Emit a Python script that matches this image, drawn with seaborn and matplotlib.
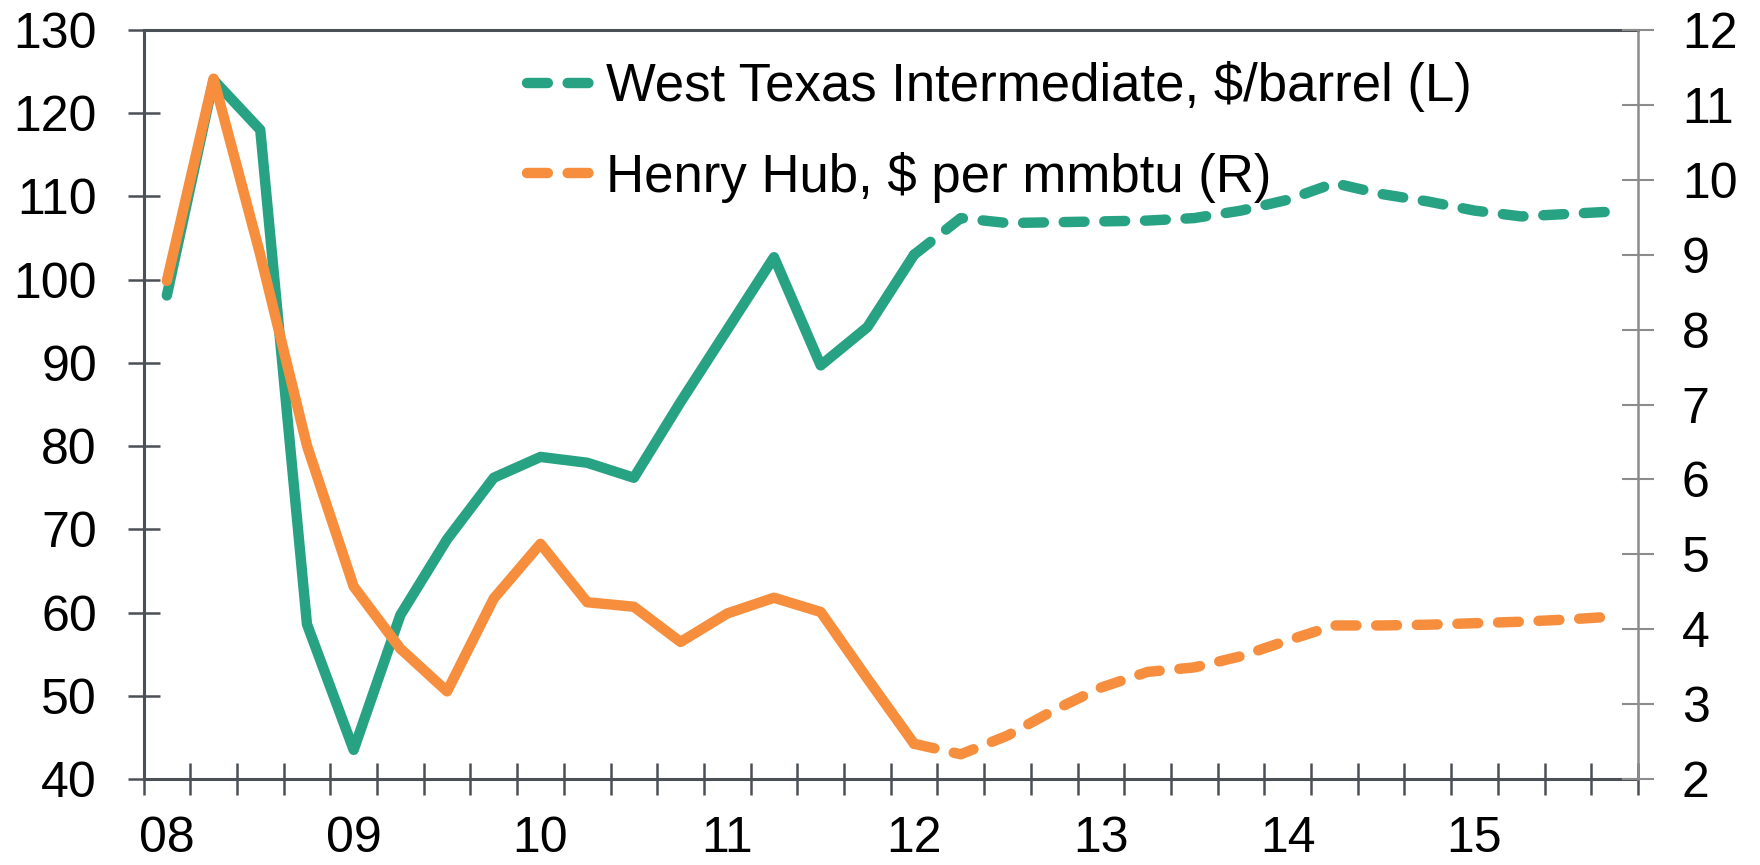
import matplotlib
matplotlib.use("Agg")
import matplotlib.pyplot as plt
from matplotlib.lines import Line2D
import numpy as np
import pandas as pd
import seaborn as sns

# ---------------- data (quarterly, 2008Q1 .. 2015Q4) ----------------
year_labels = ["08", "09", "10", "11", "12", "13", "14", "15"]
wti = [98.1, 124.0, 118.0, 58.6, 43.5, 59.7, 68.8, 76.2,
       78.7, 78.0, 76.2, 85.3, 94.0, 102.7, 89.7, 94.3,
       103.0, 107.4, 106.8, 106.9, 107.0, 107.1, 107.4, 108.3,
       109.6, 111.6, 110.3, 109.4, 108.3, 107.6, 107.9, 108.2]
henry_hub = [8.65, 11.35, 9.0, 6.45, 4.57, 3.74, 3.17, 4.41,
             5.14, 4.36, 4.30, 3.83, 4.21, 4.42, 4.23, 3.34,
             2.47, 2.33, 2.58, 2.92, 3.22, 3.43, 3.49, 3.64,
             3.85, 4.05, 4.05, 4.06, 4.08, 4.10, 4.13, 4.17]
forecast_start = 16  # index of first forecast quarter (dashed from here)
labels = ["West Texas Intermediate, $/barrel (L)", "Henry Hub, $ per mmbtu (R)"]

GREEN = "#27a282"
ORANGE = "#f68e3d"
DARK = "#4b5056"
GREY = "#8c8c8c"

sns.set_theme(style="white")
plt.rcParams["font.family"] = ["Liberation Sans", "DejaVu Sans"]
plt.rcParams["text.color"] = "black"

n = len(wti)
x = np.arange(n) + 0.5
df = pd.DataFrame({"x": x, "wti": wti, "hh": henry_hub})
hist = df.iloc[: forecast_start + 1]
fc = df.iloc[forecast_start:]

fig = plt.figure(figsize=(17.6, 8.65), dpi=100)
ax = fig.add_axes([143.5 / 1760, 1 - 779 / 865, (1638 - 143.5) / 1760, (779 - 30) / 865])
ax2 = ax.twinx()

LW = 7.5
DASH = [2.0, 1.9]
sns.lineplot(data=hist, x="x", y="wti", ax=ax, color=GREEN, lw=LW)
sns.lineplot(data=fc, x="x", y="wti", ax=ax, color=GREEN, lw=LW, linestyle="--")
sns.lineplot(data=hist, x="x", y="hh", ax=ax2, color=ORANGE, lw=LW)
sns.lineplot(data=fc, x="x", y="hh", ax=ax2, color=ORANGE, lw=LW, linestyle="--")

for a in (ax, ax2):
    for ln in a.lines:
        ln.set_solid_capstyle("round")
        ln.set_solid_joinstyle("round")
        ln.set_dash_capstyle("round")
        if ln.get_linestyle() == "--":
            ln.set_dashes(DASH)

ax.set_xlim(0, n)
ax.set_ylim(40, 130)
ax2.set_ylim(2, 12)
ax.set_xlabel("")
ax.set_ylabel("")
ax2.set_ylabel("")

# x ticks: every quarter (unlabelled), labels at Q1 of each year
ax.set_xticks(np.arange(0, n + 1))
ax.set_xticklabels([])
ax.set_xticks(np.arange(len(year_labels)) * 4 + 0.5, minor=True)
ax.set_xticklabels(year_labels, minor=True)
ax.tick_params(axis="x", which="major", direction="inout", length=23, width=1.8,
               color=DARK, bottom=True)
ax.tick_params(axis="x", which="minor", length=0, pad=27, labelsize=36, labelcolor="black")

ax.set_yticks(np.arange(40, 131, 10))
ax.tick_params(axis="y", direction="inout", length=23, width=1.8, color=DARK,
               pad=22, labelsize=36, labelcolor="black", left=True)
ax2.set_yticks(np.arange(2, 13, 1))
ax2.tick_params(axis="y", direction="inout", length=23, width=1.5, color=GREY,
                pad=20, labelsize=36, labelcolor="black", right=True)

for s in ("left", "bottom", "top"):
    ax.spines[s].set_visible(True)
    ax.spines[s].set_color(DARK)
    ax.spines[s].set_linewidth(2.2)
ax.spines["right"].set_visible(False)
for s in ("left", "bottom", "top"):
    ax2.spines[s].set_visible(False)
ax2.spines["right"].set_visible(True)
ax2.spines["right"].set_color(GREY)
ax2.spines["right"].set_linewidth(1.8)
ax.grid(False)
ax2.grid(False)

handles = [Line2D([], [], color=GREEN, lw=LW, linestyle="--", dashes=DASH,
                  dash_capstyle="round"),
           Line2D([], [], color=ORANGE, lw=LW, linestyle="--", dashes=DASH,
                  dash_capstyle="round")]
leg = ax2.legend(handles, labels, loc="upper left", bbox_to_anchor=(0.2563, 0.958),
                 frameon=False, fontsize=38, handlelength=1.45, handletextpad=0.05,
                 labelspacing=0.74, borderpad=0, borderaxespad=0)
for t in leg.get_texts():
    t.set_color("black")

fig.savefig("out.png", dpi=100)
